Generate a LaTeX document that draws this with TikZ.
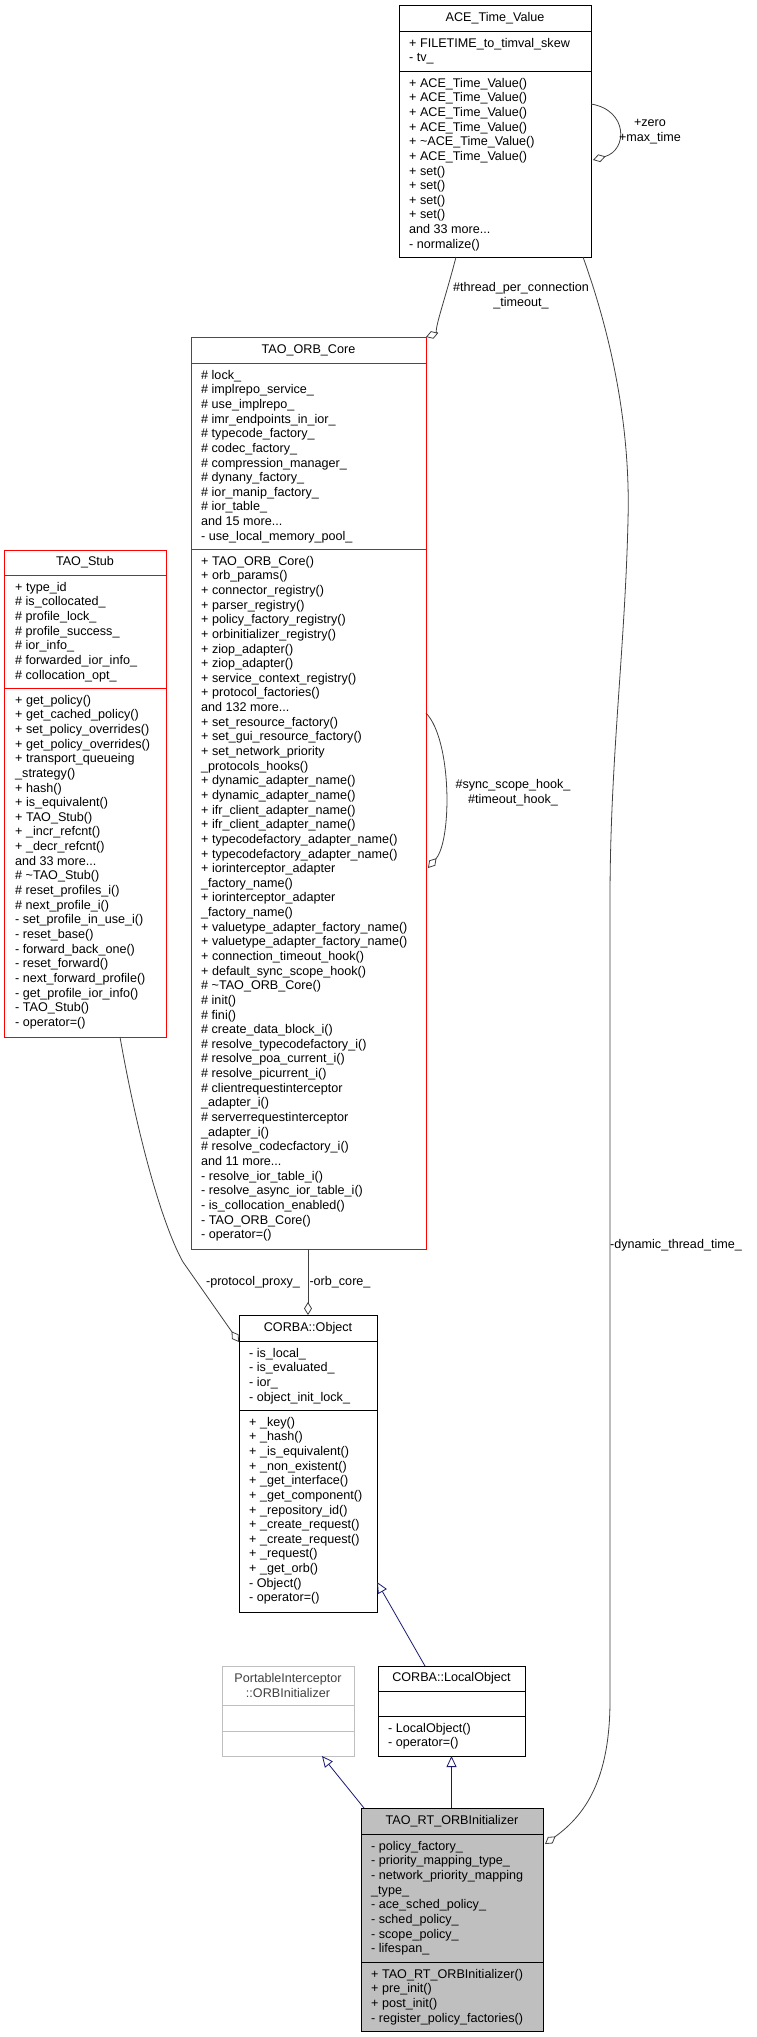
\documentclass[tikz,border=0pt]{standalone}
\usepackage{fontspec}
\setmainfont{Liberation Sans}
\usetikzlibrary{arrows.meta,calc}
\definecolor{edgegray}{HTML}{404040}
\definecolor{navy}{HTML}{191970}
\definecolor{lgray}{HTML}{BFBFBF}
\tikzset{
  umlbox/.style={draw, line width=1pt, inner sep=0pt, outer sep=0pt, anchor=north west},
  redbox/.style={umlbox, draw=red},
  txt/.style={anchor=north west, inner sep=0pt, align=left, font=\fontsize{12.6}{14.64}\selectfont},
  ttl/.style={anchor=center, inner sep=0pt, font=\fontsize{12.6}{14.64}\selectfont},
  rel/.style={draw=edgegray, line width=0.8pt},
  agg/.style={rel, -{Diamond[open,length=13pt,width=8pt]}},
  inh/.style={draw=navy, line width=0.8pt, -{Triangle[open,length=11pt,width=10pt]}},
  lbl/.style={inner sep=0pt, align=center, font=\fontsize{12.6}{14.64}\selectfont}
}
\begin{document}
\begin{tikzpicture}[x=1pt,y=-1pt]
\useasboundingbox (0,0) rectangle (756,2037);

% ACE_Time_Value
\node[umlbox, minimum width=192pt, minimum height=252pt] (ace) at (399,5) {};
\draw[line width=1pt] (399,31) -- (591,31) (399,71) -- (591,71);
\node[ttl] (acet) at (495,18) {ACE\_Time\_Value};
\node[txt] (acea) at (409,36.75) {\strut + FILETIME\_to\_timval\_skew\\- tv\_};
\node[txt] (acem) at (409,76.75) {\strut + ACE\_Time\_Value()\\+ ACE\_Time\_Value()\\+ ACE\_Time\_Value()\\+ ACE\_Time\_Value()\\+ \textasciitilde ACE\_Time\_Value()\\+ ACE\_Time\_Value()\\+ set()\\+ set()\\+ set()\\+ set()\\and 33 more...\\- normalize()};

% TAO_ORB_Core
\node[redbox, minimum width=235pt, minimum height=912pt] (orb) at (191,337) {};
\draw[red, line width=1pt] (191,363) -- (426,363) (191,549) -- (426,549);
\node[ttl] (orbt) at (308.5,350) {TAO\_ORB\_Core};
\node[txt] (orba) at (201,368.75) {\strut \# lock\_\\\# implrepo\_service\_\\\# use\_implrepo\_\\\# imr\_endpoints\_in\_ior\_\\\# typecode\_factory\_\\\# codec\_factory\_\\\# compression\_manager\_\\\# dynany\_factory\_\\\# ior\_manip\_factory\_\\\# ior\_table\_\\and 15 more...\\- use\_local\_memory\_pool\_};
\node[txt] (orbm) at (201,554.75) {\strut + TAO\_ORB\_Core()\\+ orb\_params()\\+ connector\_registry()\\+ parser\_registry()\\+ policy\_factory\_registry()\\+ orbinitializer\_registry()\\+ ziop\_adapter()\\+ ziop\_adapter()\\+ service\_context\_registry()\\+ protocol\_factories()\\and 132 more...\\+ set\_resource\_factory()\\+ set\_gui\_resource\_factory()\\+ set\_network\_priority\\\_protocols\_hooks()\\+ dynamic\_adapter\_name()\\+ dynamic\_adapter\_name()\\+ ifr\_client\_adapter\_name()\\+ ifr\_client\_adapter\_name()\\+ typecodefactory\_adapter\_name()\\+ typecodefactory\_adapter\_name()\\+ iorinterceptor\_adapter\\\_factory\_name()\\+ iorinterceptor\_adapter\\\_factory\_name()\\+ valuetype\_adapter\_factory\_name()\\+ valuetype\_adapter\_factory\_name()\\+ connection\_timeout\_hook()\\+ default\_sync\_scope\_hook()\\\# \textasciitilde TAO\_ORB\_Core()\\\# init()\\\# fini()\\\# create\_data\_block\_i()\\\# resolve\_typecodefactory\_i()\\\# resolve\_poa\_current\_i()\\\# resolve\_picurrent\_i()\\\# clientrequestinterceptor\\\_adapter\_i()\\\# serverrequestinterceptor\\\_adapter\_i()\\\# resolve\_codecfactory\_i()\\and 11 more...\\- resolve\_ior\_table\_i()\\- resolve\_async\_ior\_table\_i()\\- is\_collocation\_enabled()\\- TAO\_ORB\_Core()\\- operator=()};

% TAO_Stub
\node[redbox, minimum width=162pt, minimum height=487pt] (stub) at (4,550) {};
\draw[red, line width=1pt] (4,575) -- (166,575) (4,688) -- (166,688);
\node[ttl] (stubt) at (85,562.5) {TAO\_Stub};
\node[txt] (stuba) at (15,580.75) {\strut + type\_id\\\# is\_collocated\_\\\# profile\_lock\_\\\# profile\_success\_\\\# ior\_info\_\\\# forwarded\_ior\_info\_\\\# collocation\_opt\_};
\node[txt] (stubm) at (15,693.75) {\strut + get\_policy()\\+ get\_cached\_policy()\\+ set\_policy\_overrides()\\+ get\_policy\_overrides()\\+ transport\_queueing\\\_strategy()\\+ hash()\\+ is\_equivalent()\\+ TAO\_Stub()\\+ \_incr\_refcnt()\\+ \_decr\_refcnt()\\and 33 more...\\\# \textasciitilde TAO\_Stub()\\\# reset\_profiles\_i()\\\# next\_profile\_i()\\- set\_profile\_in\_use\_i()\\- reset\_base()\\- forward\_back\_one()\\- reset\_forward()\\- next\_forward\_profile()\\- get\_profile\_ior\_info()\\- TAO\_Stub()\\- operator=()};

% CORBA::Object
\node[umlbox, minimum width=138pt, minimum height=297pt] (obj) at (239,1315) {};
\draw[line width=1pt] (239,1341) -- (377,1341) (239,1410) -- (377,1410);
\node[ttl] (objt) at (308,1328) {CORBA::Object};
\node[txt] (obja) at (249,1346.75) {\strut - is\_local\_\\- is\_evaluated\_\\- ior\_\\- object\_init\_lock\_};
\node[txt] (objm) at (249,1415.75) {\strut + \_key()\\+ \_hash()\\+ \_is\_equivalent()\\+ \_non\_existent()\\+ \_get\_interface()\\+ \_get\_component()\\+ \_repository\_id()\\+ \_create\_request()\\+ \_create\_request()\\+ \_request()\\+ \_get\_orb()\\- Object()\\- operator=()};

% PortableInterceptor::ORBInitializer
\node[umlbox, draw=lgray, minimum width=132pt, minimum height=90pt] (pi) at (222,1666) {};
\draw[lgray, line width=1pt] (222,1705) -- (354,1705) (222,1731) -- (354,1731);
\node[ttl, align=center, text=edgegray] (pit) at (288,1685.5) {PortableInterceptor\\::ORBInitializer};

% CORBA::LocalObject
\node[umlbox, minimum width=147pt, minimum height=90pt] (lo) at (378,1666) {};
\draw[line width=1pt] (378,1691) -- (525,1691) (378,1716) -- (525,1716);
\node[ttl] (lot) at (451.5,1678.5) {CORBA::LocalObject};
\node[txt] (lom) at (388,1721.75) {\strut - LocalObject()\\- operator=()};

% TAO_RT_ORBInitializer
\node[umlbox, fill=lgray, minimum width=182pt, minimum height=223pt] (rt) at (361,1808) {};
\draw[line width=1pt] (361,1834) -- (543,1834) (361,1962) -- (543,1962);
\node[ttl] (rtt) at (452,1821) {TAO\_RT\_ORBInitializer};
\node[txt] (rta) at (371,1839.75) {\strut - policy\_factory\_\\- priority\_mapping\_type\_\\- network\_priority\_mapping\\\_type\_\\- ace\_sched\_policy\_\\- sched\_policy\_\\- scope\_policy\_\\- lifespan\_};
\node[txt] (rtm) at (371,1967.75) {\strut + TAO\_RT\_ORBInitializer()\\+ pre\_init()\\+ post\_init()\\- register\_policy\_factories()};

% connectors
\draw[agg] ($(ace.south west)+(57,0)$) .. controls (445,300) and (432,335) .. (orb.north east);
\draw[agg] ($(ace.north east)+(0,99)$) .. controls (628,110) and (628,150) .. ($(ace.north east)+(2,155)$);
\draw[agg] ($(ace.south east)+(-8,0)$) .. controls (620,360) and (630,450) .. (628,520) .. controls (625,650) and (610,760) .. (610,900) -- (610,1700) .. controls (610,1780) and (585,1815) .. ($(rt.north east)+(2,36)$);
\draw[agg] ($(orb.north east)+(0,376)$) .. controls (452,740) and (452,840) .. ($(orb.north east)+(2,531)$);
\draw[agg] ($(stub.south west)+(116,0)$) .. controls (140,1150) and (165,1230) .. (183,1262) -- ($(obj.north west)+(0,27)$);
\draw[agg] (orb.south -| obj.north) -- (obj.north);
\draw[inh] ($(lo.north west)+(47,0)$) -- ($(obj.south east)+(0,-30)$);
\draw[inh] ($(rt.north west)+(3,0)$) -- ($(pi.south west)+(100,0)$);
\draw[inh] (rt.north -| lot) -- (lo.south -| lot);

% labels
\node[lbl] (l1) at (521,295.5) {\#thread\_per\_connection\\\_timeout\_};
\node[lbl] (l2) at (650,131.5) {+zero\\+max\_time};
\node[lbl] (l3) at (513,792.5) {\#sync\_scope\_hook\_\\\#timeout\_hook\_};
\node[lbl] (l4) at (253,1282) {-protocol\_proxy\_};
\node[lbl] (l5) at (340,1282) {-orb\_core\_};
\node[lbl] (l6) at (676,1245) {-dynamic\_thread\_time\_};
\end{tikzpicture}
\end{document}
